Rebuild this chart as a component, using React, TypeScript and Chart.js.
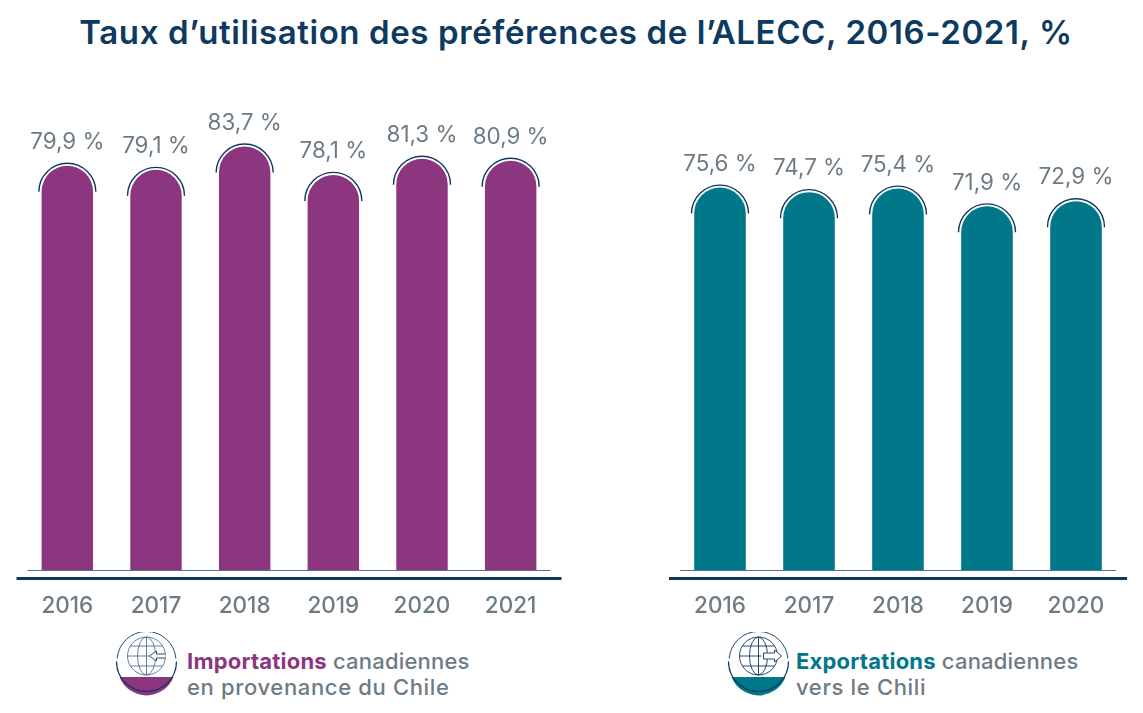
import React, { useEffect, useRef } from "react";
import { Chart, registerables } from "chart.js";

Chart.register(...registerables);

const importYears = ["2016", "2017", "2018", "2019", "2020", "2021"];
const importValues = [79.9, 79.1, 83.7, 78.1, 81.3, 80.9];
const exportYears = ["2016", "2017", "2018", "2019", "2020"];
const exportValues = [75.6, 74.7, 75.4, 71.9, 72.9];
const titleText = "Taux d’utilisation des préférences de l’ALECC, 2016-2021, %";

const PURPLE = "#8d3680";
const TEAL = "#00788a";
const NAVY = "#0f3a5f";
const THIN = "#4f7396";
const GREY = "#6d7b85";
const FONT = "Inter, 'Noto Sans', sans-serif";

const fmt = (v: number) => v.toFixed(1).replace(".", ",") + " %";

const decor = {
  id: "decor",
  afterDraw(chart: any) {
    const { ctx, chartArea } = chart;
    const meta = chart.getDatasetMeta(0);
    const values = chart.data.datasets[0].data as number[];
    ctx.save();
    ctx.strokeStyle = THIN;
    ctx.lineWidth = 1;
    ctx.beginPath();
    ctx.moveTo(chartArea.left + 4.5, chartArea.bottom);
    ctx.lineTo(chartArea.right - 4.5, chartArea.bottom);
    ctx.stroke();
    ctx.strokeStyle = NAVY;
    ctx.lineWidth = 3;
    ctx.beginPath();
    ctx.moveTo(chartArea.left - 6.5, chartArea.bottom + 8);
    ctx.lineTo(chartArea.right + 6.5, chartArea.bottom + 8);
    ctx.stroke();
    meta.data.forEach((bar: any, i: number) => {
      ctx.strokeStyle = NAVY;
      ctx.lineWidth = 1.4;
      ctx.beginPath();
      ctx.arc(bar.x, bar.y + 26, 28.5, Math.PI, 0);
      ctx.stroke();
      ctx.fillStyle = GREY;
      ctx.font = `400 22.4px ${FONT}`;
      ctx.textAlign = "center";
      ctx.textBaseline = "middle";
      ctx.fillText(fmt(values[i]), bar.x, bar.y - 23.5);
    });
    ctx.restore();
  },
};

function makeChart(canvas: HTMLCanvasElement, labels: string[], data: number[], color: string, padLeft: number, padRight: number) {
  return new Chart(canvas, {
    type: "bar",
    data: {
      labels,
      datasets: [
        {
          data,
          backgroundColor: color,
          borderWidth: 0,
          borderSkipped: false,
          borderRadius: { topLeft: 26, topRight: 26, bottomLeft: 0, bottomRight: 0 },
          categoryPercentage: 1,
          barPercentage: 0.58,
        },
      ],
    },
    options: {
      animation: false,
      responsive: false,
      layout: { padding: { left: padLeft, right: padRight, top: 64, bottom: 0 } },
      plugins: { legend: { display: false }, tooltip: { enabled: false } },
      scales: {
        x: {
          grid: { display: false },
          border: { display: false },
          afterFit: (s: any) => {
            s.height = 54.5;
          },
          ticks: {
            color: GREY,
            font: { family: FONT, size: 22.5, weight: "500" },
            padding: 14,
            maxRotation: 0,
            autoSkip: false,
          },
        },
        y: { display: false, min: 0, max: 100 },
      },
    },
    plugins: [decor],
  } as any);
}

function Icon({ x, color, dir }: { x: number; color: string; dir: "in" | "out" }) {
  const c = 30.5;
  const g = c;
  const arrow =
    dir === "in"
      ? `M${g + 19} 22 H${g + 10} V19 L${g + 3} 24 L${g + 10} 29 V26 H${g + 19}`
      : `M${g + 5} 21 H${g + 16} V18 L${g + 23} 24 L${g + 16} 30 V27 H${g + 5} Z`;
  return (
    <svg
      width={62}
      height={66}
      viewBox="0 0 62 66"
      style={{ position: "absolute", left: x - 30.5, top: 632 }}
      fill="none"
    >
      <path d={`M${c - 27} 45 H${c + 27} A29 29 0 0 1 ${c - 27} 45 Z`} fill={color} stroke="none" />
      <path d={`M1.1 26.5 A29.5 29.5 0 0 1 59.9 26.5`} stroke={NAVY} strokeWidth={0.9} />
      <path d={`M0.5 29.5 A30 30 0 0 0 60.5 29.5`} stroke={NAVY} strokeWidth={1.2} />
      <g stroke={dir === "in" ? THIN : NAVY} strokeWidth={0.9}>
        <circle cx={g} cy={24} r={19} />
        <ellipse cx={g} cy={24} rx={9} ry={19} />
        <line x1={g} y1={5} x2={g} y2={43} />
        <line x1={g - 16} y1={14} x2={g + 16} y2={14} />
        <line x1={g - 16} y1={34} x2={g + 16} y2={34} />
        <line x1={g - 19} y1={24} x2={g + 3} y2={24} />
      </g>
      <path d={arrow} stroke={NAVY} strokeWidth={0.9} fill="#fff" />
    </svg>
  );
}

function Legend({ x, color, lead, rest, second }: { x: number; color: string; lead: string; rest: string; second: string }) {
  return (
    <div
      style={{
        position: "absolute",
        left: x,
        top: 648,
        fontFamily: FONT,
        fontSize: 22,
        letterSpacing: 0.2,
        lineHeight: "26px",
        color: GREY,
        fontWeight: 500,
        whiteSpace: "nowrap",
      }}
    >
      <div>
        <span style={{ color, fontWeight: 700 }}>{lead}</span> {rest}
      </div>
      <div style={{ letterSpacing: 0.65 }}>{second}</div>
    </div>
  );
}

export default function App() {
  const left = useRef<HTMLCanvasElement>(null);
  const right = useRef<HTMLCanvasElement>(null);
  useEffect(() => {
    const a = makeChart(left.current!, importYears, importValues, PURPLE, 23, 17);
    const b = makeChart(right.current!, exportYears, exportValues, TEAL, 103.5, 22.5);
    return () => {
      a.destroy();
      b.destroy();
    };
  }, []);
  return (
    <div style={{ position: "absolute", left: 0, top: 0, width: 1143, height: 713, overflow: "hidden", background: "#fff" }}>
      <div
        style={{
          position: "absolute",
          left: 0,
          width: 1152,
          top: 12,
          textAlign: "center",
          fontFamily: FONT,
          fontSize: 33,
          letterSpacing: 0.6,
          lineHeight: "40px",
          fontWeight: 600,
          color: NAVY,
          whiteSpace: "nowrap",
        }}
      >
        {titleText}
      </div>
      <canvas ref={left} width={572} height={625} style={{ position: "absolute", left: 0, top: 0 }} />
      <canvas ref={right} width={571} height={625} style={{ position: "absolute", left: 572, top: 0 }} />
      <Icon x={146} color={PURPLE} dir="in" />
      <Icon x={758} color={TEAL} dir="out" />
      <Legend x={187} color={PURPLE} lead="Importations" rest="canadiennes" second="en provenance du Chile" />
      <Legend x={796} color={TEAL} lead="Exportations" rest="canadiennes" second="vers le Chili" />
    </div>
  );
}
